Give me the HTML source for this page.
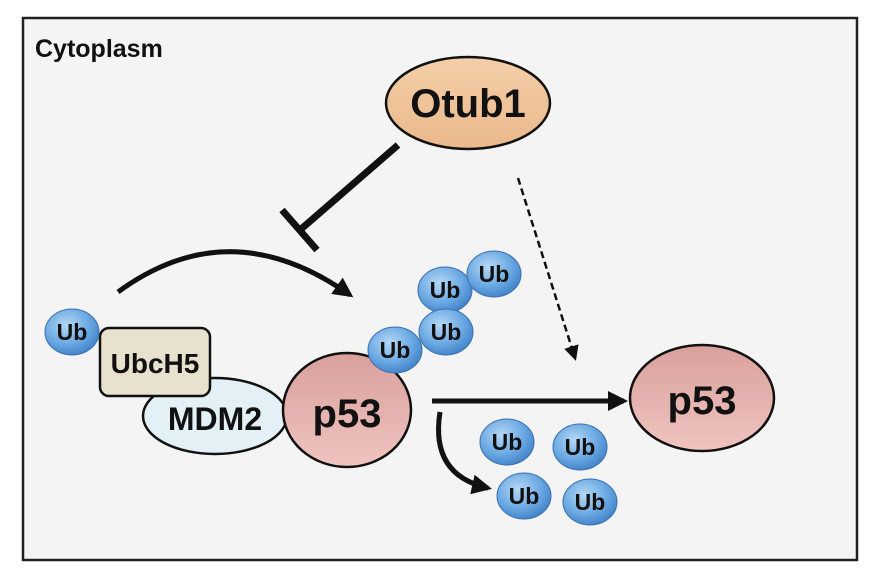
<!DOCTYPE html>
<html><head><meta charset="utf-8"><style>body{margin:0;background:#fff}svg{display:block}text{font-family:"Liberation Sans",sans-serif;font-weight:bold;fill:#111}</style></head>
<body>
<svg width="872" height="581" viewBox="0 0 872 581">
<defs>
<radialGradient id="ub" cx="0.4" cy="0.35" r="0.7"><stop offset="0" stop-color="#b5d8f5"/><stop offset="0.6" stop-color="#6aa8e2"/><stop offset="1" stop-color="#3f7fc6"/></radialGradient>
<linearGradient id="pk" x1="0" y1="0" x2="0" y2="1"><stop offset="0" stop-color="#d9a09c"/><stop offset="1" stop-color="#f0c4c0"/></linearGradient>
<linearGradient id="or" x1="0" y1="0" x2="0" y2="1"><stop offset="0" stop-color="#f5cfa8"/><stop offset="1" stop-color="#eab88c"/></linearGradient>
<marker id="ah" viewBox="0 0 10 10" refX="8" refY="5" markerWidth="4" markerHeight="4" orient="auto"><path d="M0,0L10,5L0,10z" fill="#111"/></marker>
<marker id="ah2" viewBox="0 0 10 10" refX="8" refY="5" markerWidth="6" markerHeight="6" orient="auto"><path d="M0,0L10,5L0,10z" fill="#111"/></marker>
</defs>
<rect x="0" y="0" width="872" height="581" fill="#fff"/>
<rect x="23" y="18" width="834" height="542" fill="#f4f4f4" stroke="#222" stroke-width="2.5"/>
<text x="35" y="57" font-size="25">Cytoplasm</text>
<ellipse cx="468" cy="103" rx="82" ry="46" fill="url(#or)" stroke="#111" stroke-width="2.5"/>
<text x="468" y="117" font-size="40" text-anchor="middle">Otub1</text>
<line x1="398" y1="145" x2="300" y2="230" stroke="#111" stroke-width="7"/>
<line x1="282" y1="210" x2="317" y2="250" stroke="#111" stroke-width="7"/>
<path d="M118,292 Q230,210 350,295" fill="none" stroke="#111" stroke-width="5" marker-end="url(#ah)"/>
<line x1="518" y1="178" x2="575" y2="358" stroke="#111" stroke-width="2.5" stroke-dasharray="7,4" marker-end="url(#ah2)"/>
<line x1="432" y1="401" x2="624" y2="401" stroke="#111" stroke-width="5" marker-end="url(#ah)"/>
<path d="M440,412 Q430,475 488,488" fill="none" stroke="#111" stroke-width="5" marker-end="url(#ah)"/>
<ellipse cx="215" cy="416" rx="72" ry="38" fill="#e3f1f7" stroke="#111" stroke-width="2.5"/>
<text x="215" y="430" font-size="32" text-anchor="middle">MDM2</text>
<rect x="100" y="328" width="110" height="68" rx="9" fill="#e8e1cd" stroke="#111" stroke-width="2.5"/>
<text x="155" y="373" font-size="28" text-anchor="middle">UbcH5</text>
<ellipse cx="347" cy="410" rx="64" ry="57" fill="url(#pk)" stroke="#111" stroke-width="2.5"/>
<text x="347" y="427" font-size="40" text-anchor="middle">p53</text>
<ellipse cx="702" cy="398" rx="72" ry="53" fill="url(#pk)" stroke="#111" stroke-width="2.5"/>
<text x="702" y="414" font-size="40" text-anchor="middle">p53</text>
<g font-size="23">
<g><ellipse cx="72" cy="332" rx="27" ry="23" fill="url(#ub)" stroke="#3a6fae" stroke-width="1"/><text x="72" y="340" text-anchor="middle">Ub</text></g>
<g><ellipse cx="445" cy="290" rx="27" ry="23" fill="url(#ub)" stroke="#3a6fae" stroke-width="1"/><text x="445" y="298" text-anchor="middle">Ub</text></g>
<g><ellipse cx="494" cy="274" rx="27" ry="23" fill="url(#ub)" stroke="#3a6fae" stroke-width="1"/><text x="494" y="282" text-anchor="middle">Ub</text></g>
<g><ellipse cx="446" cy="332" rx="27" ry="23" fill="url(#ub)" stroke="#3a6fae" stroke-width="1"/><text x="446" y="340" text-anchor="middle">Ub</text></g>
<g><ellipse cx="395" cy="350" rx="27" ry="23" fill="url(#ub)" stroke="#3a6fae" stroke-width="1"/><text x="395" y="358" text-anchor="middle">Ub</text></g>
<g><ellipse cx="507" cy="442" rx="27" ry="23" fill="url(#ub)" stroke="#3a6fae" stroke-width="1"/><text x="507" y="450" text-anchor="middle">Ub</text></g>
<g><ellipse cx="580" cy="447" rx="27" ry="23" fill="url(#ub)" stroke="#3a6fae" stroke-width="1"/><text x="580" y="455" text-anchor="middle">Ub</text></g>
<g><ellipse cx="524" cy="496" rx="27" ry="23" fill="url(#ub)" stroke="#3a6fae" stroke-width="1"/><text x="524" y="504" text-anchor="middle">Ub</text></g>
<g><ellipse cx="590" cy="502" rx="27" ry="23" fill="url(#ub)" stroke="#3a6fae" stroke-width="1"/><text x="590" y="510" text-anchor="middle">Ub</text></g>
</g>
</svg>
</body></html>
